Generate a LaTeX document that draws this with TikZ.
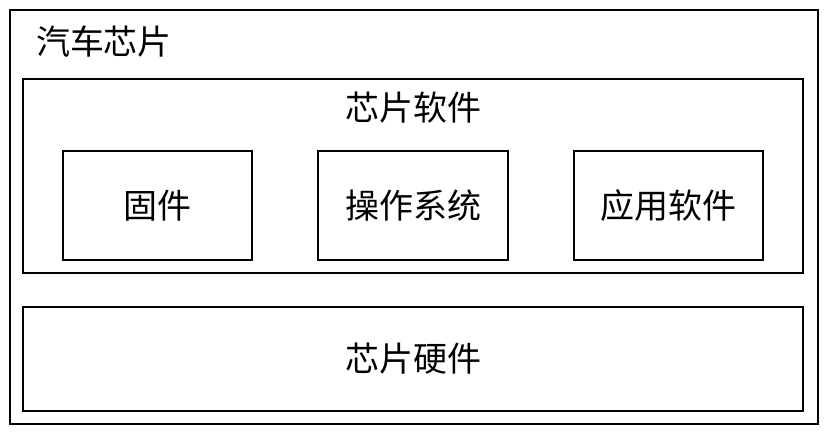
\documentclass[tikz,border=0pt]{standalone}
\usepackage{fontspec}
\newfontfamily\cjk{Noto Sans CJK SC}
\begin{document}
\begin{tikzpicture}[x=1pt,y=-1pt,
  box/.style={draw=black,line width=1.3pt},
  lbl/.style={font=\cjk\fontsize{34}{36}\selectfont,inner sep=0pt}]
\useasboundingbox (0,0) rectangle (831,439);
\draw[box] (10,10) rectangle (818,424);
\draw[box] (23,79) rectangle (803,273);
\draw[box] (63,151) rectangle (252,260);
\draw[box] (318,151) rectangle (508,260);
\draw[box] (574,151) rectangle (763,260);
\draw[box] (23,307) rectangle (803,411);
\node[lbl] (chip) at (104,42) {汽车芯片};
\node[lbl] (sw) at (413,108) {芯片软件};
\node[lbl] (fw) at (157.5,205.5) {固件};
\node[lbl] (os) at (413,205.5) {操作系统};
\node[lbl] (app) at (668.5,205.5) {应用软件};
\node[lbl] (hw) at (413,359) {芯片硬件};
\end{tikzpicture}
\end{document}
